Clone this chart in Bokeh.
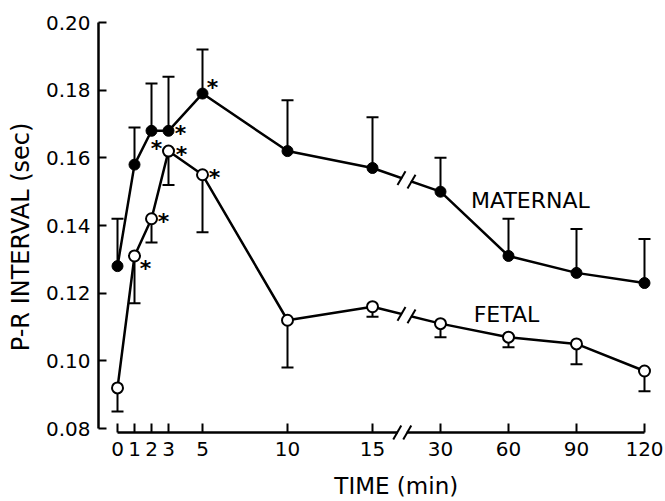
import math
import numpy as np
from bokeh.plotting import figure
from bokeh.models import (Range1d, FixedTicker, Whisker, TeeHead, ColumnDataSource,
                          Label, PrintfTickFormatter)
from bokeh.core.properties import value
from bokeh.embed import file_html
from bokeh.resources import INLINE

# ---------------- data ----------------
times = [0, 1, 2, 3, 5, 10, 15, 30, 60, 90, 120]
maternal = [0.128, 0.158, 0.168, 0.168, 0.179, 0.162, 0.157, 0.150, 0.131, 0.126, 0.123]
maternal_upper = [0.142, 0.169, 0.182, 0.184, 0.192, 0.177, 0.172, 0.160, 0.142, 0.139, 0.136]
fetal = [0.092, 0.131, 0.142, 0.162, 0.155, 0.112, 0.116, 0.111, 0.107, 0.105, 0.097]
fetal_lower = [0.085, 0.117, 0.135, 0.152, 0.138, 0.098, 0.113, 0.107, 0.104, 0.099, 0.091]
maternal_sig = [2, 3, 5]
fetal_sig = [1, 2, 3, 5]
x_tick_times = [0, 1, 2, 3, 5, 10, 15, 30, 60, 90, 120]
y_ticks = [0.08, 0.10, 0.12, 0.14, 0.16, 0.18, 0.20]
break_after, break_before = 15, 30

# ---------------- broken time scale ----------------
def xpos(t):
    t = np.asarray(t, dtype=float)
    return np.where(t <= 15, t, 19 + (t - 30) / 7.5)

FONT = "DejaVu Sans"
NBSP = "\u00a0"
W, H = 665, 501
BL, BR, BT, BB = 98, 8, 18, 68
x0, x1 = -1.118, 31.765
y0, y1 = 0.07882, 0.20119
px_x = (W - BL - BR) / (x1 - x0)
px_y = (H - BT - BB) / (y1 - y0)

p = figure(width=W, height=H, output_backend="svg", toolbar_location=None,
           x_range=Range1d(x0, x1), y_range=Range1d(y0, y1),
           min_border_left=BL, min_border_right=BR, min_border_top=BT, min_border_bottom=BB)
p.grid.visible = False
p.outline_line_color = None
p.background_fill_color = "white"

# axes
xt = [float(v) for v in xpos(x_tick_times)]
p.xaxis.ticker = FixedTicker(ticks=xt)
p.xaxis.major_label_overrides = {v: str(t) for v, t in zip(xt, x_tick_times)}
p.xaxis.bounds = (xt[0], xt[-1])
p.yaxis.ticker = FixedTicker(ticks=y_ticks)
p.yaxis.formatter = PrintfTickFormatter(format="%.2f")
p.yaxis.bounds = (y_ticks[0], y_ticks[-1])
for ax in (p.xaxis[0], p.yaxis[0]):
    ax.axis_line_width = 2.5
    ax.axis_line_color = "black"
    ax.major_tick_line_width = 2
    ax.major_tick_line_color = "black"
    ax.major_tick_out = 0
    ax.minor_tick_line_color = None
    ax.major_label_text_font = FONT
    ax.major_label_text_font_size = "20px"
    ax.major_label_text_color = "black"
    ax.axis_label_text_font = FONT
    ax.axis_label_text_font_style = "normal"
    ax.axis_label_text_color = "black"
p.xaxis.major_tick_in = 9
p.xaxis.major_label_standoff = 9
p.yaxis.major_tick_in = 8
p.yaxis.major_label_standoff = 8

# axis titles (non-breaking spaces nudge them off-centre, as in the reference)
p.xaxis.axis_label = NBSP * 5 + "TIME (min)"
p.xaxis.axis_label_text_font_size = "23px"
p.xaxis.axis_label_standoff = 14
p.yaxis.axis_label = "P-R INTERVAL (sec)" + NBSP * 3
p.yaxis.axis_label_text_font_size = "24px"
p.yaxis.axis_label_standoff = 8

# error bars (under the markers)
src_m = ColumnDataSource(dict(x=xpos(times), y=maternal, up=maternal_upper))
src_f = ColumnDataSource(dict(x=xpos(times), y=fetal, lo=fetal_lower))
wm = Whisker(source=src_m, base="x", lower="y", upper="up", line_width=2,
             lower_head=None, upper_head=TeeHead(size=12, line_width=2), level="underlay")
wf = Whisker(source=src_f, base="x", lower="lo", upper="y", line_width=2,
             upper_head=None, lower_head=TeeHead(size=12, line_width=2), level="underlay")
p.add_layout(wm)
p.add_layout(wf)

# lines and markers
p.line("x", "y", source=src_m, line_width=2.5, line_color="black")
p.line("x", "y", source=src_f, line_width=2.5, line_color="black")
p.scatter("x", "y", source=src_m, size=11, fill_color="black", line_color="black")
p.scatter("x", "y", source=src_f, size=11, fill_color="white", line_color="black", line_width=2)

# break marks "//" on both series and on the time axis
xa, xb = float(xpos(break_after)), float(xpos(break_before))
xm = (xa + xb) / 2
dx = 5 / px_x
slash_angle = math.radians(60)
for series in (maternal, fetal):
    ya = series[times.index(break_after)]
    yb = series[times.index(break_before)]
    ang = math.atan2((yb - ya) * px_y, (xb - xa) * px_x)
    yint = lambda xx: ya + (yb - ya) * (xx - xa) / (xb - xa)
    p.scatter([xm], [yint(xm)], marker="dash", size=9, angle=ang,
              line_color="white", line_width=6)
    p.scatter([xm - dx, xm + dx], [yint(xm - dx), yint(xm + dx)], marker="dash",
              size=16, angle=slash_angle, line_color="black", line_width=2)
gap = p.scatter([xm - 0.25], [y0], marker="dash", size=9, line_color="white", line_width=6)
gap.level = "overlay"
sl = p.scatter([xm - 0.25 - dx, xm - 0.25 + dx], [y0, y0], marker="dash", size=16,
               angle=slash_angle, line_color="black", line_width=2)
sl.level = "overlay"

# significance asterisks
m_off = {2: (5, 15), 3: (12, 0), 5: (10, -9)}
f_off = {1: (11, 10), 2: (12, 0), 3: (13, 0), 5: (12, 0)}
for series, sig, off in ((maternal, maternal_sig, m_off), (fetal, fetal_sig, f_off)):
    xs = [float(xpos(t)) for t in sig]
    ys = [series[times.index(t)] for t in sig]
    p.text(xs, ys, text=["*"] * len(sig),
           x_offset=[off[t][0] for t in sig], y_offset=[off[t][1] + 3 for t in sig],
           text_font=value(FONT), text_font_size="22px", text_font_style="bold",
           text_align="center", text_baseline="middle", text_color="black")

# series labels
p.add_layout(Label(x=24.29, y=0.1474, text="MATERNAL", text_font=FONT, text_font_size="22px",
                   text_align="center", text_baseline="middle", text_color="black"))
p.add_layout(Label(x=22.88, y=0.1138, text="FETAL", text_font=FONT, text_font_size="22px",
                   text_align="center", text_baseline="middle", text_color="black"))

open("out.html", "w").write(file_html(p, INLINE))
